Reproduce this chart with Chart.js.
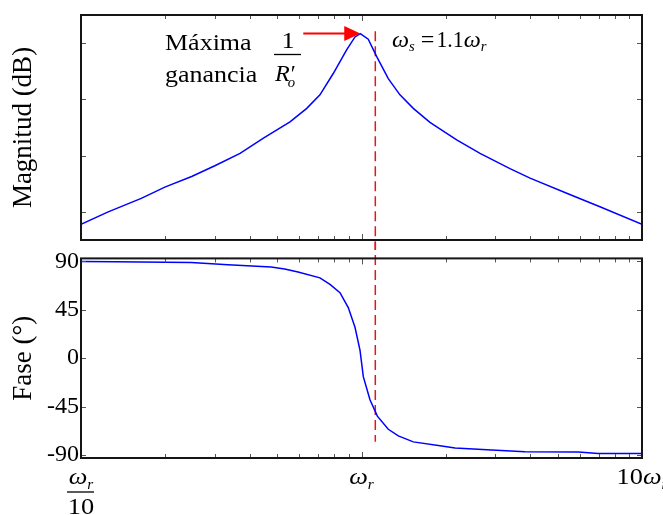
<!DOCTYPE html>
<html><head><meta charset="utf-8">
<script src="https://cdn.jsdelivr.net/npm/chart.js@4/dist/chart.umd.min.js"></script>
<style>
html,body{margin:0;padding:0;background:#fff;}
#wrap{position:relative;width:663px;height:515px;overflow:hidden;background:#fff;}
canvas{position:absolute;left:0;}
#c1{top:0;}
#c2{top:242px;}
.pre{position:absolute;left:-9999px;top:0;font-family:"Liberation Serif";}
</style></head><body>
<div class="pre">Máxima <i>ω</i></div>
<div id="wrap"><canvas id="c1" width="663" height="250"></canvas><canvas id="c2" width="663" height="273"></canvas></div>
<script>
// ---- data ----
const freqMag = [0.1,0.125,0.164,0.199,0.248,0.300,0.369,0.447,0.556,0.638,0.711,0.793,0.885,0.948,0.99,1.057,1.133,1.246,1.371,1.530,1.754,2.184,2.646,3.383,3.99,5.39,7.08,10];
const magDb   = [-42.2,-40.0,-37.6,-35.6,-33.7,-31.8,-29.6,-26.9,-24.0,-21.6,-19.2,-15.4,-11.2,-8.9,-8.3,-9.3,-12.4,-16.3,-19.2,-21.6,-24.1,-27.2,-29.6,-32.3,-34.0,-36.7,-39.1,-42.2];
const freqPhase = [0.1,0.132,0.247,0.334,0.476,0.532,0.594,0.711,0.772,0.838,0.897,0.948,0.988,1.015,1.072,1.139,1.246,1.353,1.530,1.905,2.155,2.912,3.828,5.93,6.98,10];
const phaseDeg  = [89.9,89.7,89.1,87.0,84.8,82.9,80.2,74.7,68.6,60.9,47.1,28.8,7.3,-17.2,-38.6,-53.9,-66.1,-72.3,-77.8,-81.5,-83.6,-85.4,-87.0,-87.2,-88.5,-88.5];
const xTicks = [0.1,0.2,0.3,0.4,0.5,0.6,0.7,0.8,0.9,1,2,3,4,5,6,7,8,9,10];
const xLabelValues = [0.1, 1, 10];
const magTicks = [-40,-30,-20,-10];
const magRange = [-45,-5];
const phaseTicks = [-90,-45,0,45,90];
const phaseRange = [-92.8,92.8];
const wsLineX = 1.12;
const wsMagSpan = [-7.9,-50];
const wsPhaseSpan = [110,-77.8];
const arrowX = [0.62,0.99];
const arrowDb = -8.3;

const SERIF = '"Liberation Serif", "Times New Roman", Times, serif';

function txt(ctx, s, x, y, size, italic, sx, align) {
  ctx.save();
  ctx.font = (italic ? 'italic ' : '') + size + 'px ' + SERIF;
  ctx.fillStyle = '#000';
  ctx.textBaseline = 'alphabetic';
  ctx.textAlign = 'left';
  const w = ctx.measureText(s).width * sx;
  let x0 = x;
  if (align === 'center') x0 = x - w / 2;
  ctx.translate(x0, y); ctx.scale(sx, 1); ctx.fillText(s, 0, 0);
  ctx.restore();
  return x0 + w;
}
function measure(ctx, s, size, italic, sx) {
  ctx.save();
  ctx.font = (italic ? 'italic ' : '') + size + 'px ' + SERIF;
  const w = ctx.measureText(s).width * sx;
  ctx.restore();
  return w;
}

const framePlugin = {
  id: 'frame',
  afterDatasetsDraw(chart) {
    const {ctx, chartArea: a, scales} = chart;
    const xs = scales.x, ys = scales.y;
    ctx.save();
    ctx.strokeStyle = '#555'; ctx.lineWidth = 1;
    ctx.beginPath();
    xs.ticks.forEach(t => {
      const px = Math.round(xs.getPixelForValue(t.value)) + 0.5;
      const lg = Math.log10(t.value);
      const major = Math.abs(lg - Math.round(lg)) < 1e-6;
      const len = major ? 6 : 4;
      ctx.moveTo(px, a.bottom); ctx.lineTo(px, a.bottom - len);
      ctx.moveTo(px, a.top); ctx.lineTo(px, a.top + len);
    });
    ys.ticks.forEach(t => {
      const py = Math.round(ys.getPixelForValue(t.value)) + 0.5;
      ctx.moveTo(a.left, py); ctx.lineTo(a.left + 5, py);
      ctx.moveTo(a.right, py); ctx.lineTo(a.right - 5, py);
    });
    ctx.stroke();
    ctx.strokeStyle = '#151515'; ctx.lineWidth = 2;
    ctx.strokeRect(a.left, a.top, a.right - a.left, a.bottom - a.top);
    ctx.restore();
  }
};

const magNotes = {
  id: 'magNotes',
  afterDraw(chart) {
    const {ctx, scales: {x, y}} = chart;
    const x0 = x.getPixelForValue(arrowX[0]), x1 = x.getPixelForValue(arrowX[1]), py = y.getPixelForValue(arrowDb);
    ctx.save();
    ctx.strokeStyle = '#ff0000'; ctx.fillStyle = '#ff0000'; ctx.lineWidth = 2;
    ctx.beginPath(); ctx.moveTo(x0, py); ctx.lineTo(x1 - 12, py); ctx.stroke();
    ctx.beginPath(); ctx.moveTo(x1, py); ctx.lineTo(x1 - 16, py - 7.5); ctx.lineTo(x1 - 16, py + 7.5); ctx.closePath(); ctx.fill();
    ctx.restore();
    txt(ctx, 'Máxima', 165, 50, 23, false, 1.13);
    txt(ctx, 'ganancia', 165, 82, 23, false, 1.13);
    txt(ctx, '1', 288, 48, 24, false, 1.1, 'center');
    ctx.save(); ctx.strokeStyle = '#000'; ctx.lineWidth = 1.3;
    ctx.beginPath(); ctx.moveTo(274, 54.5); ctx.lineTo(301, 54.5); ctx.stroke(); ctx.restore();
    const rEnd = txt(ctx, 'R', 275, 81, 23, true, 1.05);
    txt(ctx, '′', rEnd + 1, 81, 23, false, 1.0);
    txt(ctx, 'o', rEnd - 2, 87, 14, true, 1.05);
    let p = txt(ctx, 'ω', 392, 47, 23, true, 1.05);
    p = txt(ctx, 's', p, 51, 14, true, 1.05);
    p = txt(ctx, '=', p + 6, 47, 23, false, 1.05);
    p = txt(ctx, '1.1', p + 2, 47, 23, false, 0.95);
    p = txt(ctx, 'ω', p, 47, 23, true, 1.05);
    txt(ctx, 'r', p, 51, 14, true, 1.05);
  }
};

const xLabels = {
  id: 'xLabels',
  afterDraw(chart) {
    const {ctx, scales: {x}} = chart;
    const sx = 1.1;
    const base = 242, subBase = 247;
    let cx = x.getPixelForValue(xLabelValues[0]);
    let w = measure(ctx, 'ω', 24, true, sx) + measure(ctx, 'r', 14, true, sx);
    let p = txt(ctx, 'ω', cx - w / 2, base, 24, true, sx);
    txt(ctx, 'r', p, subBase, 14, true, sx);
    ctx.save(); ctx.strokeStyle = '#000'; ctx.lineWidth = 1.3;
    ctx.beginPath(); ctx.moveTo(cx - 14, 250); ctx.lineTo(cx + 13, 250); ctx.stroke(); ctx.restore();
    txt(ctx, '10', cx, 272, 24, false, sx, 'center');
    cx = x.getPixelForValue(xLabelValues[1]);
    p = txt(ctx, 'ω', cx - w / 2, base, 24, true, sx);
    txt(ctx, 'r', p, subBase, 14, true, sx);
    cx = x.getPixelForValue(xLabelValues[2]);
    const w3 = measure(ctx, '10', 24, false, sx) + w;
    p = txt(ctx, '10', cx - w3 / 2, base, 24, false, sx);
    p = txt(ctx, 'ω', p, base, 24, true, sx);
    txt(ctx, 'r', p, subBase, 14, true, sx);
  }
};

function xScale() {
  return {
    type: 'logarithmic', min: 0.1, max: 10,
    afterBuildTicks: s => { s.ticks = xTicks.map(v => ({value: v})); },
    ticks: {display: false}, grid: {display: false, drawTicks: false}, border: {display: false},
    afterFit: s => { s.height = 0; }
  };
}

function draw() {
  new Chart(document.getElementById('c1'), {
    type: 'line',
    data: {datasets: [
      {data: freqMag.map((f, i) => ({x: f, y: magDb[i]})), borderColor: '#0000ff', borderWidth: 1.5, pointRadius: 0, tension: 0},
      {data: wsMagSpan.map(v => ({x: wsLineX, y: v})), borderColor: 'rgb(232,22,22)', borderWidth: 1.5, borderDash: [10, 5], pointRadius: 0, clip: false}
    ]},
    options: {
      responsive: false, animation: false, devicePixelRatio: 1,
      layout: {padding: {top: 15, right: 21, bottom: 10, left: 0}},
      plugins: {legend: {display: false}, tooltip: {enabled: false}},
      scales: {
        x: xScale(),
        y: {
          min: magRange[0], max: magRange[1],
          afterBuildTicks: s => { s.ticks = magTicks.map(v => ({value: v})); },
          ticks: {display: false}, grid: {display: false, drawTicks: false}, border: {display: false},
          title: {display: true, text: 'Magnitud (dB)', color: '#000', font: {family: SERIF, size: 27}, padding: {top: 8, bottom: 0}},
          afterFit: s => { s.width = 81; }
        }
      }
    },
    plugins: [framePlugin, magNotes]
  });

  new Chart(document.getElementById('c2'), {
    type: 'line',
    data: {datasets: [
      {data: freqPhase.map((f, i) => ({x: f, y: phaseDeg[i]})), borderColor: '#0000ff', borderWidth: 1.5, pointRadius: 0, tension: 0},
      {data: wsPhaseSpan.map(v => ({x: wsLineX, y: v})), borderColor: 'rgb(232,22,22)', borderWidth: 1.5, borderDash: [10, 5], pointRadius: 0, clip: false}
    ]},
    options: {
      responsive: false, animation: false, devicePixelRatio: 1,
      layout: {padding: {top: 15, right: 21, bottom: 57, left: 0}},
      plugins: {legend: {display: false}, tooltip: {enabled: false}},
      scales: {
        x: xScale(),
        y: {
          min: phaseRange[0], max: phaseRange[1],
          afterBuildTicks: s => { s.ticks = phaseTicks.map(v => ({value: v})); },
          ticks: {display: true, color: '#000', font: {family: SERIF, size: 24}, padding: 2, callback: v => String(v), autoSkip: false},
          grid: {display: false, drawTicks: false}, border: {display: false},
          title: {display: true, text: 'Fase (°)', color: '#000', font: {family: SERIF, size: 27}, padding: {top: 8, bottom: 0}},
          afterFit: s => { s.width = 81; }
        }
      }
    },
    plugins: [framePlugin, xLabels]
  });
}

Promise.all([
  document.fonts.load('24px "Liberation Serif"'),
  document.fonts.load('italic 24px "Liberation Serif"')
]).then(draw, draw);
</script>
</body></html>
